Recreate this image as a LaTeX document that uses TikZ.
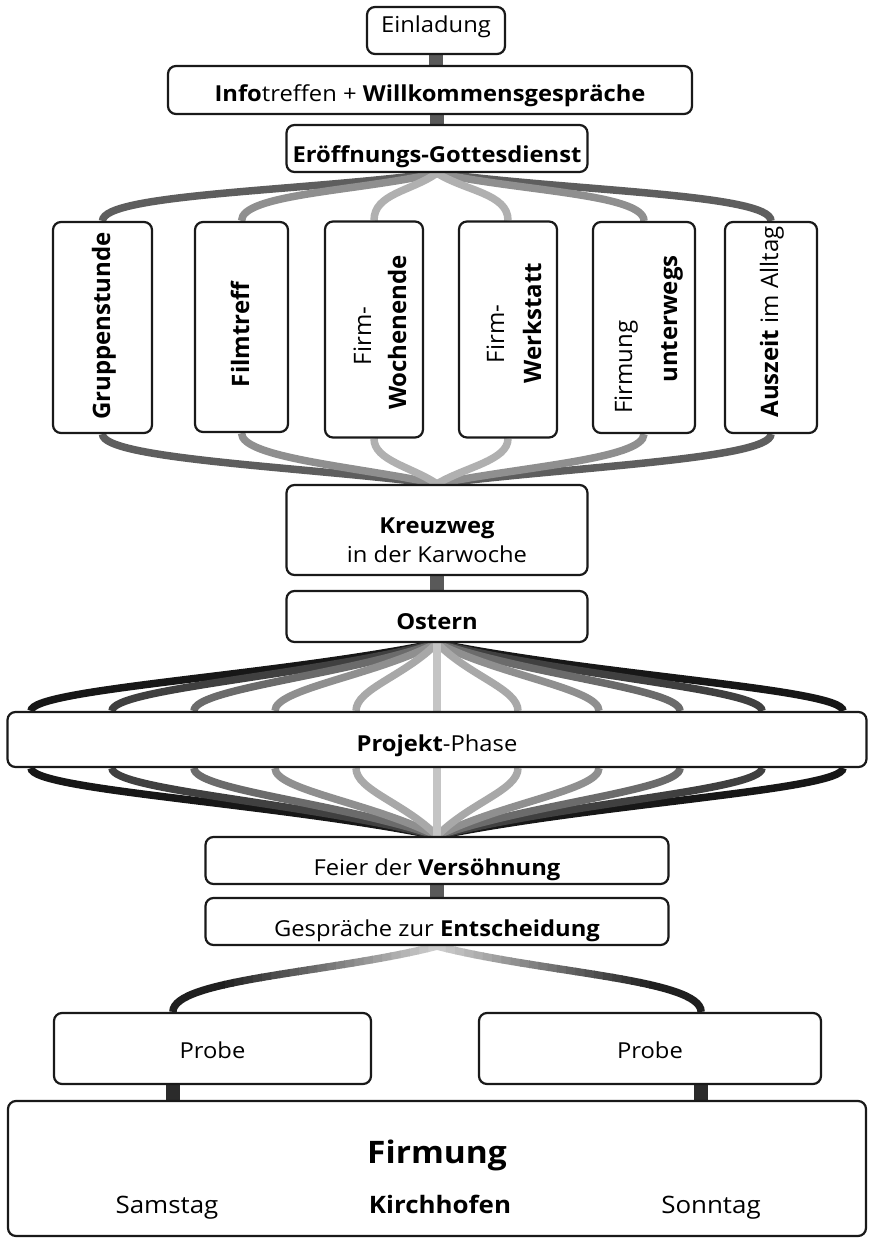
\documentclass[tikz,border=0pt]{standalone}
\usepackage{fontspec}
\setmainfont{Open Sans}
\newfontfamily\hfont[FakeStretch=1.08]{Open Sans}
\usetikzlibrary{calc}
\pgfdeclarelayer{paper}
\pgfdeclarelayer{links}
\pgfsetlayers{paper,links,main}
\begin{document}
\begin{tikzpicture}[x=1pt,y=-1pt,
  box/.style={draw=black!90, line width=2.2pt, rounded corners=8pt, fill=white,
    inner sep=0pt, text depth=0pt, font=\hfont\fontsize{22}{26}\selectfont},
  bar/.style={line width=14pt, draw=black!65},
  fan/.style={line width=7.5pt},
  rtext/.style={rotate=90, inner sep=0pt, anchor=base, font=\fontsize{24}{28}\selectfont},
  htext/.style={inner sep=0pt, anchor=base, font=\hfont\fontsize{22}{26}\selectfont},
  bigtext/.style={inner sep=0pt, anchor=base, font=\hfont\fontsize{31}{36}\selectfont},
  midtext/.style={inner sep=0pt, anchor=base, font=\hfont\fontsize{24}{28}\selectfont},
]
\begin{pgfonlayer}{paper}
\fill[white] (0,0) rectangle (868,1241);
\end{pgfonlayer}
\useasboundingbox (0,0) rectangle (868,1241);

% ---------- boxes ----------
\node[box, minimum width=138pt, minimum height=47pt, text height=3.6pt] (einl) at (436,30.5) {Einladung};
\node[box, minimum width=524pt, minimum height=48pt, text height=23.4pt] (info) at (430,90) {\textbf{Info}treffen + \textbf{Willkommensgespräche}};
\node[box, minimum width=301pt, minimum height=47pt, text height=27.6pt] (erof) at (437,148.5) {\textbf{Eröffnungs-Gottesdienst}};

\node[box, minimum width=99pt, minimum height=211pt] (g1) at (102.5,327.5) {};
\node[box, minimum width=93pt, minimum height=210pt] (g2) at (241.5,327) {};
\node[box, minimum width=98pt, minimum height=216pt] (g3) at (374,329.5) {};
\node[box, minimum width=98pt, minimum height=216pt] (g4) at (508,329.5) {};
\node[box, minimum width=102pt, minimum height=211pt] (g5) at (644,327.5) {};
\node[box, minimum width=92pt, minimum height=211pt] (g6) at (771,327.5) {};

\node[rtext] (t1) at (110,326) {\textbf{Gruppenstunde}};
\node[rtext] (t2) at (249,334) {\textbf{Filmtreff}};
\node[rtext] (t3a) at (371,336) {Firm-};
\node[rtext] (t3b) at (406,332.5) {\textbf{Wochenende}};
\node[rtext] (t4a) at (504,334) {Firm-};
\node[rtext] (t4b) at (541,323) {\textbf{Werkstatt}};
\node[rtext] (t5a) at (632,367) {Firmung};
\node[rtext] (t5b) at (677,319) {\textbf{unterwegs}};
\node[rtext] (t6) at (778,322) {\textbf{Auszeit} im Alltag};

\node[box, minimum width=301pt, minimum height=90pt] (kreuz) at (437,530) {};
\node[htext] (kreuzA) at (437,533) {\textbf{Kreuzweg}};
\node[htext] (kreuzB) at (437,562) {in der Karwoche};
\node[box, minimum width=301pt, minimum height=51pt, text height=26pt] (ostern) at (437,616.5) {\textbf{Ostern}};
\node[box, minimum width=859pt, minimum height=55pt, text height=24.4pt] (proj) at (437,739.5) {\textbf{Projekt}-Phase};
\node[box, minimum width=463pt, minimum height=47pt, text height=29pt] (feier) at (437,860.5) {Feier der \textbf{Versöhnung}};
\node[box, minimum width=463pt, minimum height=47pt, text height=29pt] (gespr) at (437,921.5) {Gespräche zur \textbf{Entscheidung}};
\node[box, minimum width=317pt, minimum height=71pt, text height=19pt] (probeL) at (212.5,1048.5) {Probe};
\node[box, minimum width=342pt, minimum height=71pt, text height=19pt] (probeR) at (650,1048.5) {Probe};
\node[box, minimum width=858pt, minimum height=135pt] (firm) at (437,1168.5) {};
\node[bigtext] (firmA) at (437,1163) {\textbf{Firmung}};
\node[midtext] (sam) at (167,1213) {Samstag};
\node[midtext] (kirch) at (440,1213) {\textbf{Kirchhofen}};
\node[midtext] (sonn) at (711,1213) {Sonntag};

\coordinate (pl) at ($(probeL.north west)+(120,0)$);
\coordinate (pr) at ($(probeR.north east)+(-121,0)$);

% ---------- connectors ----------
\begin{pgfonlayer}{links}
\draw[bar] (einl.south) -- (einl.south |- info.north);
\draw[bar] (erof.north) -- (erof.north |- info.south);
\draw[bar] (kreuz.south) -- (ostern.north);
\draw[bar] (feier.south) -- (gespr.north);
\draw[bar, draw=black!83] (pl |- probeL.south) -- (pl |- firm.north);
\draw[bar, draw=black!83] (pr |- probeR.south) -- (pr |- firm.north);

% fan to the six columns
\foreach \g/\dx/\c/\cy in {g1/-133.8/63/25, g6/133.6/63/25, g2/-78.2/44/25, g5/82.8/44/25, g3/-25.2/31/22, g4/28.4/31/22} {
  \draw[fan, draw=black!\c] (erof.south) .. controls ($(erof.south)+(\dx,18)$) and ($(\g.north)+(0,-27)$) .. (\g.north);
  \draw[fan, draw=black!\c] (\g.south) .. controls ($(\g.south)+(0,\cy)$) and ($(kreuz.north)+(\dx,-17)$) .. (kreuz.north);
}

% fan around the project phase
\foreach \d/\c in {406/91, 325/75, 243/58, 162/44, 81/34} {
  \draw[fan, draw=black!\c] (ostern.south) .. controls ($(ostern.south)+(-0.4*\d,33)$) and ($(proj.north)+(-\d,-22)$) .. ($(proj.north)+(-\d,0)$);
  \draw[fan, draw=black!\c] (ostern.south) .. controls ($(ostern.south)+(0.4*\d,33)$) and ($(proj.north)+(\d,-22)$) .. ($(proj.north)+(\d,0)$);
  \draw[fan, draw=black!\c] ($(proj.south)+(-\d,0)$) .. controls ($(proj.south)+(-\d,22)$) and ($(feier.north)+(-0.4*\d,-33)$) .. (feier.north);
  \draw[fan, draw=black!\c] ($(proj.south)+(\d,0)$) .. controls ($(proj.south)+(\d,22)$) and ($(feier.north)+(0.4*\d,-33)$) .. (feier.north);
}
\draw[fan, draw=black!23] (ostern.south) -- (proj.north);
\draw[fan, draw=black!23] (proj.south) -- (feier.north);

% gradient fan to the two rehearsals
\foreach \i in {0,...,23} {
  \pgfmathsetmacro\xa{437-9.25*\i+0.5}
  \pgfmathsetmacro\xb{437-9.25*(\i+1)-0.5}
  \pgfmathsetmacro\xc{437+9.25*\i-0.5}
  \pgfmathsetmacro\xd{437+9.25*(\i+1)+0.5}
  \pgfmathsetmacro\pc{20+68*\i/23}
  \begin{scope}
    \clip (\xa,930) rectangle (\xb,1020);
    \draw[fan, draw=black!\pc] (gespr.south) .. controls ($(gespr.south)+(-105,27)$) and ($(pl)+(0,-33)$) .. (pl);
  \end{scope}
  \begin{scope}
    \clip (\xc,930) rectangle (\xd,1020);
    \draw[fan, draw=black!\pc] (gespr.south) .. controls ($(gespr.south)+(105,27)$) and ($(pr)+(0,-33)$) .. (pr);
  \end{scope}
}
\begin{scope}
  \clip (215,930) rectangle (100,1020);
  \draw[fan, draw=black!88] (gespr.south) .. controls ($(gespr.south)+(-105,27)$) and ($(pl)+(0,-33)$) .. (pl);
\end{scope}
\begin{scope}
  \clip (659,930) rectangle (780,1020);
  \draw[fan, draw=black!88] (gespr.south) .. controls ($(gespr.south)+(105,27)$) and ($(pr)+(0,-33)$) .. (pr);
\end{scope}
\end{pgfonlayer}
\end{tikzpicture}
\end{document}
